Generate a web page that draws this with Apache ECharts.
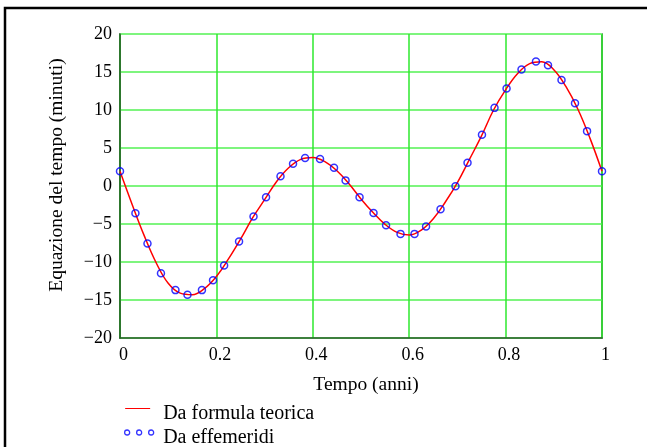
<!DOCTYPE html>
<html>
<head>
<meta charset="utf-8">
<script src="https://cdn.jsdelivr.net/npm/echarts@6/dist/echarts.min.js"></script>
<style>
  html, body { margin: 0; padding: 0; background: #fff; }
  #chart { width: 647px; height: 447px; }
</style>
</head>
<body>
<div id="chart"></div>
<script>
// tick labels
const xTicks = [0, 0.2, 0.4, 0.6, 0.8, 1]
const yTicks = [-20, -15, -10, -5, 0, 5, 10, 15, 20]

// curva teorica
const curveX = [0, 0.025, 0.05, 0.075, 0.1, 0.125, 0.15, 0.175, 0.2, 0.225,
  0.25, 0.275, 0.3, 0.325, 0.35, 0.375, 0.4, 0.425, 0.45, 0.475,
  0.5, 0.525, 0.55, 0.575, 0.6, 0.625, 0.65, 0.675, 0.7, 0.725,
  0.75, 0.775, 0.8, 0.825, 0.85, 0.875, 0.9, 0.925, 0.95, 0.975, 1]
const curveY = [1.93, -2.4, -6.5, -10.1, -12.8, -14.1, -14.3, -13.5, -11.9, -9.6,
  -7.0, -4.2, -1.8, 0.6, 2.4, 3.5, 3.75, 3.2, 2.0, 0.3,
  -1.7, -3.5, -5.05, -6.1, -6.45, -5.8, -4.3, -2.1, 0.45, 3.5,
  6.6, 10.0, 12.65, 14.8, 16.1, 16.35, 15.3, 13.1, 10.1, 6.3, 1.93]

// punti delle effemeridi
const ephX = [0, 0.032, 0.057, 0.085, 0.115, 0.140, 0.170, 0.193, 0.216, 0.247,
  0.277, 0.303, 0.333, 0.359, 0.384, 0.415, 0.444, 0.468, 0.497, 0.526,
  0.552, 0.582, 0.611, 0.635, 0.665, 0.696, 0.721, 0.751, 0.777, 0.802,
  0.833, 0.863, 0.888, 0.916, 0.944, 0.969, 1.0]
const ephY = [1.93, -3.59, -7.57, -11.47, -13.7, -14.3, -13.7, -12.4, -10.46, -7.3,
  -4.0, -1.49, 1.27, 2.93, 3.68, 3.54, 2.4, 0.74, -1.49, -3.54,
  -5.16, -6.3, -6.3, -5.34, -3.06, -0.04, 3.06, 6.74, 10.28, 12.82,
  15.32, 16.37, 15.89, 13.96, 10.9, 7.22, 1.93]

const serif = 'Liberation Serif'
let chart = echarts.init(document.getElementById('chart'))

let zip = function (xs, ys) {
  return xs.map((x, i) => [x, ys[i]])
}

let option = {
  animation: false,
  grid: {
    left: 120,
    top: 34,
    right: 45,
    bottom: 109,
    show: true,
    borderColor: '#2a5a2a',
    borderWidth: 1.5
  },
  xAxis: {
    type: 'value',
    min: xTicks[0],
    max: xTicks[xTicks.length - 1],
    interval: 0.2,
    name: 'Tempo (anni)',
    nameLocation: 'middle',
    nameGap: 37,
    nameTextStyle: { fontFamily: serif, fontSize: 19.5, color: '#000', padding: [0, 0, 0, 10] },
    axisLine: { onZero: false, lineStyle: { color: '#2a5a2a', width: 1.5 } },
    axisTick: { show: false },
    axisLabel: {
      fontFamily: serif, fontSize: 18, color: '#000', margin: 8,
      padding: [0, 0, 0, 7],
      formatter: v => String(v)
    },
    splitLine: { lineStyle: { color: '#2ee82e', width: 1.5 } }
  },
  yAxis: {
    type: 'value',
    min: yTicks[0],
    max: yTicks[yTicks.length - 1],
    interval: 5,
    name: 'Equazione del tempo (minuti)',
    nameLocation: 'middle',
    nameGap: 53,
    nameTextStyle: { fontFamily: serif, fontSize: 19.5, color: '#000', padding: [0, 0, 0, 22] },
    axisLine: { show: true, onZero: false, lineStyle: { color: '#2a5a2a', width: 1.5 } },
    axisTick: { show: false },
    axisLabel: {
      fontFamily: serif, fontSize: 18, color: '#000', margin: 8,
      padding: [6, 0, 0, 0],
      formatter: v => String(v).replace('-', '\u2212')
    },
    splitLine: { lineStyle: { color: '#7ef57e', width: 2 } }
  },
  legend: {
    orient: 'vertical',
    left: 119,
    top: 399,
    height: 80,
    itemWidth: 30,
    itemHeight: 16,
    itemGap: 4,
    textStyle: { fontFamily: serif, fontSize: 20, color: '#000', padding: [0, 0, 0, 4] },
    data: [
      {
        name: 'Da formula teorica',
        icon: 'path://M0,0L0,0M30,16L30,16M1,2L26,2L26,3L1,3Z',
        itemStyle: { color: '#ff0000', borderWidth: 0 }
      },
      {
        name: 'Da effemeridi',
        icon: 'path://M0,16L0,16M0,2.5a2.5,2.5 0 1,0 5,0a2.5,2.5 0 1,0 -5,0z M12,2.5a2.5,2.5 0 1,0 5,0a2.5,2.5 0 1,0 -5,0z M24,2.5a2.5,2.5 0 1,0 5,0a2.5,2.5 0 1,0 -5,0z',
        itemStyle: { color: 'transparent', borderColor: '#0000ff', borderWidth: 1.3 }
      }
    ]
  },
  graphic: [
    {
      type: 'polyline',
      silent: true,
      shape: { points: [[5, 447], [5, 8], [647, 8]] },
      style: { stroke: '#000', lineWidth: 2.5, fill: null }
    }
  ],
  series: [
    {
      name: 'Da formula teorica',
      type: 'line',
      smooth: 0.4,
      symbol: 'none',
      lineStyle: { color: '#ff0000', width: 1.5 },
      itemStyle: { color: '#ff0000' },
      data: zip(curveX, curveY),
      z: 3
    },
    {
      name: 'Da effemeridi',
      type: 'scatter',
      symbol: 'circle',
      symbolSize: 7,
      itemStyle: { color: 'transparent', borderColor: '#0000ff', borderWidth: 1.5 },
      data: zip(ephX, ephY),
      z: 4
    }
  ]
}

chart.setOption(option)
</script>
</body>
</html>
